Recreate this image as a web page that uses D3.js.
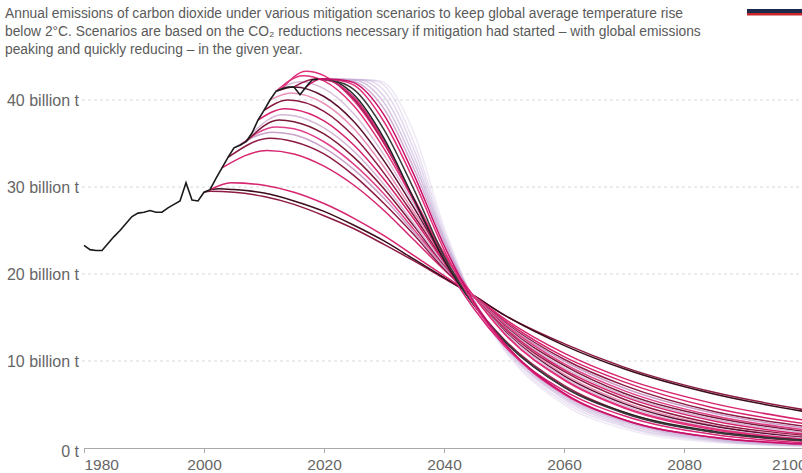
<!DOCTYPE html>
<html lang="en">
<head>
<meta charset="utf-8"/>
<title>CO2 mitigation curves</title>
<script src="https://d3js.org/d3.v7.min.js"></script>
<style>
body { margin: 0; background: #fff; }
svg { display: block; font-family: "Liberation Sans", Arial, sans-serif; }
</style>
</head>
<body>
<svg id="chart" width="802" height="473"></svg>
<script>
// --- data (billion tonnes CO2) ---
const titleLines = [
  "Annual emissions of carbon dioxide under various mitigation scenarios to keep global average temperature rise",
  "below 2°C. Scenarios are based on the CO₂ reductions necessary if mitigation had started – with global emissions",
  "peaking and quickly reducing – in the given year."
]
const xTicks = [1980, 2000, 2020, 2040, 2060, 2080, 2100]
const yTicks = [0, 10, 20, 30, 40]
const yTickLabels = ["0 t", "10 billion t", "20 billion t", "30 billion t", "40 billion t"]

const historyYears = [1980,1981,1982,1983,1984,1985,1986,1987,1988,1989,
                      1990,1991,1992,1993,1994,1995,1996,1997,1998,1999,
                      2000,2001,2002,2003,2004,2005,2006,2007,2008,2009,
                      2010,2011,2012,2013,2014,2015,2016,2017,2018,2019]
const historyValues = [23.3,22.8,22.7,22.7,23.5,24.3,25.0,25.8,26.6,27.0,
                       27.1,27.3,27.1,27.1,27.6,28.0,28.4,30.5,28.5,28.4,
                       29.4,29.7,31.0,32.2,33.4,34.5,34.8,35.2,36.2,37.7,
                       38.8,40.0,41.0,41.3,41.5,41.5,40.6,41.5,42.3,42.4]

// one entry per scenario: years and values of its path
const scenarioYears = [
  [2000,2001,2005,2010,2015,2020,2025,2030,2035,2040,2045,2050,2060,2070,2085,2100],
  [2001,2002.5,2005,2010,2015,2020,2025,2030,2035,2040,2045,2050,2060,2070,2085,2100],
  [2001,2004.5,2010,2015,2020,2025,2030,2035,2040,2045,2050,2060,2070,2085,2100],
  [2003,2010.5,2015,2020,2025,2030,2035,2040,2045,2050,2060,2070,2085,2100],
  [2004,2011,2015,2020,2025,2030,2035,2040,2045,2050,2060,2070,2085,2100],
  [2005,2011.5,2015,2020,2025,2030,2035,2040,2045,2050,2060,2070,2085,2100],
  [2006,2012,2015,2020,2025,2030,2035,2040,2045,2050,2060,2070,2085,2100],
  [2007,2012.5,2015,2020,2025,2030,2035,2040,2045,2050,2060,2070,2085,2100],
  [2008,2013,2015,2020,2025,2030,2035,2040,2045,2050,2060,2070,2085,2100],
  [2009,2013.5,2015,2020,2025,2030,2035,2040,2045,2050,2060,2070,2085,2100],
  [2010,2014,2020,2025,2030,2035,2040,2045,2050,2060,2070,2085,2100],
  [2011,2014.5,2020,2025,2030,2035,2040,2045,2050,2060,2070,2085,2100],
  [2012,2015,2020,2025,2030,2035,2040,2045,2050,2060,2070,2085,2100],
  [2012,2016,2020,2025,2030,2035,2040,2045,2050,2060,2070,2085,2100],
  [2012,2016.5,2020,2025,2030,2035,2040,2045,2050,2060,2070,2085,2100],
  [2013,2017,2020,2025,2030,2035,2040,2045,2050,2060,2070,2085,2100],
  [2015,2018.5,2021,2025,2030,2035,2040,2045,2050,2060,2070,2085,2100],
  [2017,2019.5,2025,2030,2035,2040,2045,2050,2060,2070,2085,2100],
  [2019,2020,2025,2030,2035,2040,2045,2050,2060,2070,2085,2100],
  [2019,2021,2025,2030,2035,2040,2045,2050,2060,2070,2085,2100],
  [2019,2022,2025,2030,2035,2040,2045,2050,2060,2070,2085,2100],
  [2019,2023,2025,2030,2035,2040,2045,2050,2060,2070,2085,2100],
  [2019,2024,2030,2035,2040,2045,2050,2060,2070,2085,2100],
  [2019,2025,2030,2035,2040,2045,2050,2060,2070,2085,2100],
  [2019,2026,2030,2035,2040,2045,2050,2060,2070,2085,2100],
  [2019,2027,2030,2035,2040,2045,2050,2060,2070,2085,2100],
  [2019,2028,2030,2035,2040,2045,2050,2060,2070,2085,2100],
  [2019,2029,2030,2035,2040,2045,2050,2060,2070,2085,2100]
]
const scenarioValues = [
  [29.4,29.5,29.4,28.9,28.0,26.7,25.2,23.4,21.5,19.5,17.5,15.3,12.0,9.3,6.4,4.4],
  [29.7,29.8,29.7,29.3,28.4,27.2,25.6,23.8,21.7,19.6,17.5,15.3,11.8,9.1,6.2,4.2],
  [29.7,30.5,30.2,29.4,28.1,26.4,24.4,22.1,19.8,17.5,14.9,10.9,8.0,5.1,3.2],
  [32.2,34.2,33.8,32.4,30.2,27.3,23.9,20.5,17.4,14.7,10.5,7.6,4.6,2.8],
  [33.4,35.6,35.2,33.8,31.3,28.1,24.5,20.6,17.4,14.5,10.2,7.2,4.2,2.5],
  [34.5,36.3,36.0,34.5,32.0,28.7,24.8,20.8,17.4,14.4,10.0,6.9,4.0,2.3],
  [34.8,36.9,36.7,35.2,32.6,29.2,25.1,21.0,17.4,14.3,9.7,6.6,3.7,2.1],
  [35.2,37.7,37.5,36.1,33.4,29.8,25.5,21.1,17.4,14.1,9.5,6.3,3.5,1.9],
  [36.2,38.3,38.2,36.8,34.1,30.3,25.8,21.2,17.4,14.0,9.2,6.1,3.3,1.75],
  [37.7,39.0,38.9,37.6,34.8,30.9,26.3,21.4,17.4,13.9,9.0,5.9,3.1,1.6],
  [38.8,40.0,38.7,35.8,31.6,26.7,21.6,17.4,13.7,8.8,5.6,2.8,1.45],
  [40.0,40.8,39.6,36.7,32.3,27.1,21.8,17.4,13.6,8.5,5.3,2.6,1.3],
  [41.0,41.5,40.4,37.5,33.0,27.6,21.9,17.4,13.5,8.3,5.1,2.5,1.2],
  [41.0,42.1,41.3,38.4,33.7,28.0,22.0,17.4,13.4,8.1,4.9,2.3,1.1],
  [41.0,42.8,42.2,39.3,34.4,28.4,22.2,17.4,13.2,7.9,4.7,2.2,1.0],
  [41.3,43.3,42.8,39.9,35.0,28.7,22.4,17.4,13.2,7.8,4.6,2.1,0.95],
  [41.5,42.4,42.2,40.1,35.1,28.5,21.8,16.5,12.5,7.2,4.1,1.8,0.8],
  [41.5,42.4,40.3,35.3,28.4,21.4,16.0,11.8,6.6,3.7,1.55,0.6],
  [42.4,42.4,40.6,35.6,28.6,21.6,16.4,12.3,7.0,4.1,1.9,0.9],
  [42.4,42.3,41.2,36.6,29.7,22.1,16.5,12.4,7.0,4.0,1.8,0.85],
  [42.4,42.3,41.7,37.5,30.7,22.8,16.5,11.9,6.2,3.25,1.23,0.47],
  [42.4,42.3,42.0,38.3,31.4,23.3,16.8,12.1,6.3,3.25,1.21,0.45],
  [42.4,42.3,39.0,32.1,23.7,16.9,12.1,6.2,3.15,1.15,0.42],
  [42.4,42.3,39.7,32.8,24.0,16.9,12.0,6.0,3.0,1.06,0.38],
  [42.4,42.3,40.4,33.5,24.2,16.9,11.8,5.8,2.8,0.96,0.33],
  [42.4,42.3,41.1,34.3,24.5,16.9,11.7,5.6,2.6,0.86,0.28],
  [42.4,42.3,41.7,35.1,24.9,16.9,11.5,5.3,2.45,0.77,0.24],
  [42.4,42.2,42.0,36.2,25.4,16.9,11.3,5.0,2.2,0.65,0.2]
]
const scenarioColors = [
  "#8c1a44","#3b0d1c","#d6246e","#d6246e","#8c1a44","#c8a2c8","#e0408a",
  "#7a1838","#d4b8d8","#d6246e","#8c1a44","#e890b8","#5c1030","#d8c0dc",
  "#e0307a","#e0307a","#9c1f50","#d8287a","#222222","#3a3a3a","#e0307a",
  "#c8106a","#c9a3cc","#c0a8d6","#c0a8d6","#c0a8d6","#c0a8d6","#c0a8d6"
]
const scenarioOpacity = [1,1,1,1,1,1,1,1,1,1,1,1,1,1,1,1,1,1,1,1,1,1,
                         0.85,0.7,0.55,0.45,0.35,0.25]

// --- drawing ---
const svg = d3.select("#chart")
const x = d3.scaleLinear().domain([1980, 2100]).range([84, 804])
const y = d3.scaleLinear().domain([0, 40]).range([448, 100])

// title
svg.append("g").selectAll("text").data(titleLines).join("text")
  .attr("x", 5).attr("y", (d, i) => 17.5 + i * 18)
  .style("font-size", "13.8px").style("fill", "#5a5a5a")
  .text(d => d)

// bit of logo peeking in at top right
svg.append("rect").attr("x", 747).attr("y", 9).attr("width", 55).attr("height", 4).attr("fill", "#1b2a4b")
svg.append("rect").attr("x", 747).attr("y", 13).attr("width", 55).attr("height", 2.5).attr("fill", "#c8262c")

// grid lines + y labels
svg.append("g").selectAll("line").data(yTicks.filter(d => d > 0)).join("line")
  .attr("x1", 82).attr("x2", 802)
  .attr("y1", d => y(d)).attr("y2", d => y(d))
  .attr("stroke", "#d8d8d8").attr("stroke-dasharray", "3,3")

svg.append("g").selectAll("text").data(yTicks).join("text")
  .attr("x", 79).attr("y", d => y(d) + (d === 0 ? 3 : 0)).attr("dy", "0.35em")
  .attr("text-anchor", "end")
  .style("font-size", "16px").style("fill", "#666")
  .text((d, i) => yTickLabels[i])

// x axis
const xAxis = svg.append("g").attr("transform", `translate(0,${y(0)})`)
  .call(d3.axisBottom(x).tickValues(xTicks).tickFormat(d3.format("d"))
          .tickSize(5).tickSizeOuter(0))
xAxis.select(".domain").attr("stroke", "#aaa")
xAxis.selectAll(".tick line").attr("stroke", "#aaa")
xAxis.selectAll(".tick text")
  .style("font-size", "15.5px").style("fill", "#666")
  .style("font-family", '"Liberation Sans", Arial, sans-serif')
  .attr("y", 11)
  .attr("text-anchor", d => d === 1980 ? "start" : d === 2100 ? "end" : "middle")
  .attr("dx", d => d === 2100 ? 2 : 0)

// scenario curves
const line = d3.line().x(d => x(d[0])).y(d => y(d[1])).curve(d3.curveMonotoneX)
const scen = scenarioYears.map((yrs, i) => ({
  pts: yrs.map((yr, j) => [yr, scenarioValues[i][j]]),
  color: scenarioColors[i], op: scenarioOpacity[i], idx: i
}))
// faded future ones go underneath
const order = scen.slice().sort((a, b) => a.op - b.op)
svg.append("g").selectAll("path").data(order).join("path")
  .attr("d", d => line(d.pts))
  .attr("fill", "none")
  .attr("stroke", d => d.color)
  .attr("stroke-opacity", d => d.op)
  .attr("stroke-width", 1.5)

// historical line on top
svg.append("path")
  .attr("d", d3.line().x((d, i) => x(historyYears[i])).y(d => y(d))(historyValues))
  .attr("fill", "none").attr("stroke", "#1a1a1a").attr("stroke-width", 1.6)
</script>
</body>
</html>
